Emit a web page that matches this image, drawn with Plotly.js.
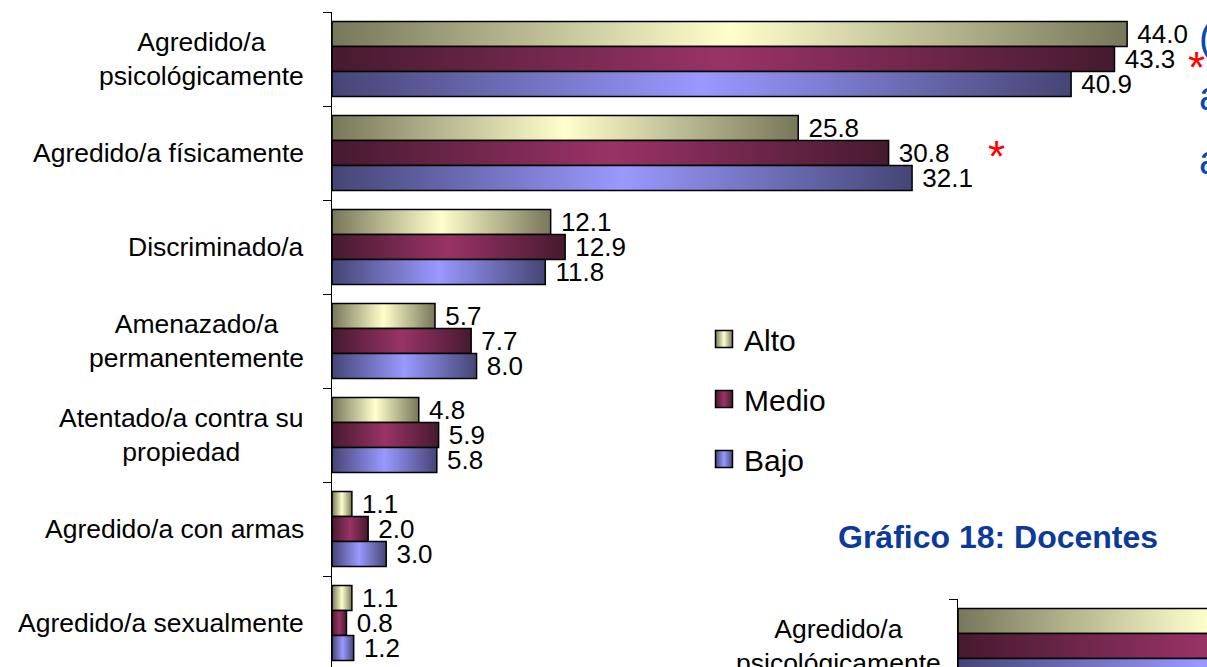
<!DOCTYPE html>
<html>
<head>
<meta charset="utf-8">
<script src="https://cdn.plot.ly/plotly-3.0.1.min.js"></script>
<style>
html,body{margin:0;padding:0;overflow:hidden;background:#fff;}
#chart{width:1207px;height:700px;}
</style>
</head>
<body>
<div id="chart"></div>
<script>
// ---- data ----
const categories = [
  'Agredido/a psicológicamente',
  'Agredido/a físicamente',
  'Discriminado/a',
  'Amenazado/a permanentemente',
  'Atentado/a contra su propiedad',
  'Agredido/a con armas',
  'Agredido/a sexualmente'
];
const categoryLabels = [
  'Agredido/a<br>psicológicamente',
  'Agredido/a físicamente',
  'Discriminado/a',
  'Amenazado/a<br>permanentemente',
  'Atentado/a contra su<br>propiedad',
  'Agredido/a con armas',
  'Agredido/a sexualmente'
];
const seriesNames = ['Alto', 'Medio', 'Bajo'];
const alto  = [44.0, 25.8, 12.1, 5.7, 4.8, 1.1, 1.1];
const medio = [43.3, 30.8, 12.9, 7.7, 5.9, 2.0, 0.8];
const bajo  = [40.9, 32.1, 11.8, 8.0, 5.8, 3.0, 1.2];

// second (cropped) chart: Gráfico 18 Docentes, bars run off the page (values estimated)
const docCategories = ['Agredido/a psicológicamente'];
const docLabels = ['Agredido/a<br>psicológicamente'];
const docAlto  = [27.6];
const docMedio = [27.6];
const docBajo  = [27.0];

const chartTitle = 'Gráfico 18: Docentes';

// ---- styling ----
const centerColors = ['#ffffcc', '#993366', '#9999ff'];
const edgeColors   = ['#77775a', '#461a2f', '#454575'];
const W = 1207, H = 700, ML = 332, MT = 12, MB = 0;
const PW = W - ML, PH = H - MT - MB;
const px = x => (x - ML) / PW;          // pixel -> paper x
const py = y => 1 - (y - MT) / PH;      // pixel -> paper y
const font = 'Liberation Sans, Arial, sans-serif';

const mainVals = [alto, medio, bajo];
const docVals = [docAlto, docMedio, docBajo];

const traces = [];
seriesNames.forEach((name, i) => {
  traces.push({
    type: 'bar', orientation: 'h', name: name,
    y: categories, x: mainVals[i],
    xaxis: 'x', yaxis: 'y',
    legendgroup: name,
    marker: {color: centerColors[i], line: {color: '#000', width: 1.5}},
    texttemplate: ' %{x:.1f}', textposition: 'outside', cliponaxis: false,
    constraintext: 'none',
    textfont: {family: font, size: 26, color: '#000'},
    hoverinfo: 'skip'
  });
});
seriesNames.forEach((name, i) => {
  traces.push({
    type: 'bar', orientation: 'h', name: name, showlegend: false,
    y: docCategories, x: docVals[i],
    xaxis: 'x2', yaxis: 'y2',
    marker: {color: centerColors[i], line: {color: '#000', width: 1.5}},
    hoverinfo: 'skip'
  });
});

const annotations = [];
categories.forEach((c, i) => {
  annotations.push({
    xref: 'paper', yref: 'y', x: px(306), y: c,
    xanchor: 'right', yanchor: 'middle', align: 'center',
    text: categoryLabels[i], showarrow: false,
    font: {family: font, size: 26.5, color: '#000'}
  });
});
docCategories.forEach((c, i) => {
  annotations.push({
    xref: 'paper', yref: 'y2', x: px(943), y: c,
    xanchor: 'right', yanchor: 'middle', align: 'center',
    text: docLabels[i], showarrow: false,
    font: {family: font, size: 26.5, color: '#000'}
  });
});
// chart title of the second chart
annotations.push({
  xref: 'paper', yref: 'paper', x: px(998), y: py(537),
  xanchor: 'center', yanchor: 'middle', showarrow: false,
  text: '<b>' + chartTitle + '</b>',
  font: {family: font, size: 32, color: '#0b3a9a'}
});
// significance asterisks
[[1196, 67], [996, 156]].forEach(p => {
  annotations.push({
    xref: 'paper', yref: 'paper', x: px(p[0]), y: py(p[1]),
    xanchor: 'center', yanchor: 'middle', showarrow: false,
    text: '*', font: {family: font, size: 44, color: '#ff0000'}
  });
});
// cropped text on the right margin
[['(', 38], ['a', 96], ['a', 160]].forEach(p => {
  annotations.push({
    xref: 'paper', yref: 'paper', x: px(1197), y: py(p[1]),
    xanchor: 'left', yanchor: 'middle', showarrow: false,
    text: p[0], font: {family: font, size: 40, color: '#0b4aa8'}
  });
});

const layout = {
  width: W, height: H,
  margin: {l: ML, r: 0, t: MT, b: MB, pad: 0, autoexpand: false},
  paper_bgcolor: '#fff', plot_bgcolor: 'rgba(0,0,0,0)',
  barmode: 'group', bargap: 0.2, bargroupgap: 0,
  showlegend: true,
  legend: {
    xref: 'paper', yref: 'paper',
    x: px(704), y: py(313), xanchor: 'left', yanchor: 'top',
    traceorder: 'grouped', tracegroupgap: 18,
    font: {family: font, size: 30, color: '#000'},
    bgcolor: 'rgba(0,0,0,0)', borderwidth: 0
  },
  xaxis: {
    domain: [0, 1], range: [0, 48.42], anchor: 'y',
    showgrid: false, zeroline: false, showline: false, showticklabels: false, ticks: ''
  },
  yaxis: {
    domain: [py(670), 1], range: [6.5, -0.5], anchor: 'x',
    type: 'category', showgrid: false, zeroline: false,
    showline: true, linecolor: '#000', linewidth: 1,
    ticks: 'outside', tickson: 'boundaries', ticklen: 8, tickcolor: '#000', tickwidth: 1,
    showticklabels: false
  },
  xaxis2: {
    domain: [px(958), 1], range: [0, 13.78], anchor: 'y2',
    showgrid: false, zeroline: false, showline: false, showticklabels: false, ticks: ''
  },
  yaxis2: {
    domain: [py(693), py(599)], range: [0.5, -0.5], anchor: 'x2',
    type: 'category', showgrid: false, zeroline: false,
    showline: true, linecolor: '#000', linewidth: 1,
    ticks: 'outside', tickson: 'boundaries', ticklen: 8, tickcolor: '#000', tickwidth: 1,
    showticklabels: false
  },
  annotations: annotations,
  hovermode: false
};

function norm(c) { return (c || '').replace(/\s+/g, '').toLowerCase(); }
function hexToRgb(h) {
  const n = parseInt(h.slice(1), 16);
  return 'rgb(' + (n >> 16) + ',' + ((n >> 8) & 255) + ',' + (n & 255) + ')';
}

function applyGradients(gd) {
  const svg = gd.querySelector('svg.main-svg');
  if (!svg) return;
  let defs = svg.querySelector('defs');
  const NS = 'http://www.w3.org/2000/svg';
  if (!defs) { defs = document.createElementNS(NS, 'defs'); svg.insertBefore(defs, svg.firstChild); }
  const map = {};
  centerColors.forEach((c, i) => {
    const id = 'barGrad' + i;
    if (!document.getElementById(id)) {
      const g = document.createElementNS(NS, 'linearGradient');
      g.setAttribute('id', id);
      g.setAttribute('x1', '0'); g.setAttribute('y1', '0');
      g.setAttribute('x2', '1'); g.setAttribute('y2', '0');
      [[0, edgeColors[i]], [0.5, c], [1, edgeColors[i]]].forEach(s => {
        const st = document.createElementNS(NS, 'stop');
        st.setAttribute('offset', s[0]);
        st.setAttribute('stop-color', s[1]);
        g.appendChild(st);
      });
      defs.appendChild(g);
    }
    map[norm(hexToRgb(c))] = 'url(#' + id + ')';
  });
  gd.querySelectorAll('.barlayer .point path').forEach(p => {
    const k = norm(p.style.fill);
    if (map[k]) p.style.fill = map[k];
  });
  gd.querySelectorAll('.legend path.legendbar, .legend .legendpoints path').forEach(p => {
    const k = norm(p.style.fill);
    if (map[k]) p.style.fill = map[k];
    p.setAttribute('d', 'M8.5,8.5H-8.5V-8.5H8.5Z');
  });
}

const gd = document.getElementById('chart');
Plotly.newPlot(gd, traces, layout, {displayModeBar: false, staticPlot: true}).then(() => {
  applyGradients(gd);
  gd.on && gd.on('plotly_afterplot', () => applyGradients(gd));
});
</script>
</body>
</html>
